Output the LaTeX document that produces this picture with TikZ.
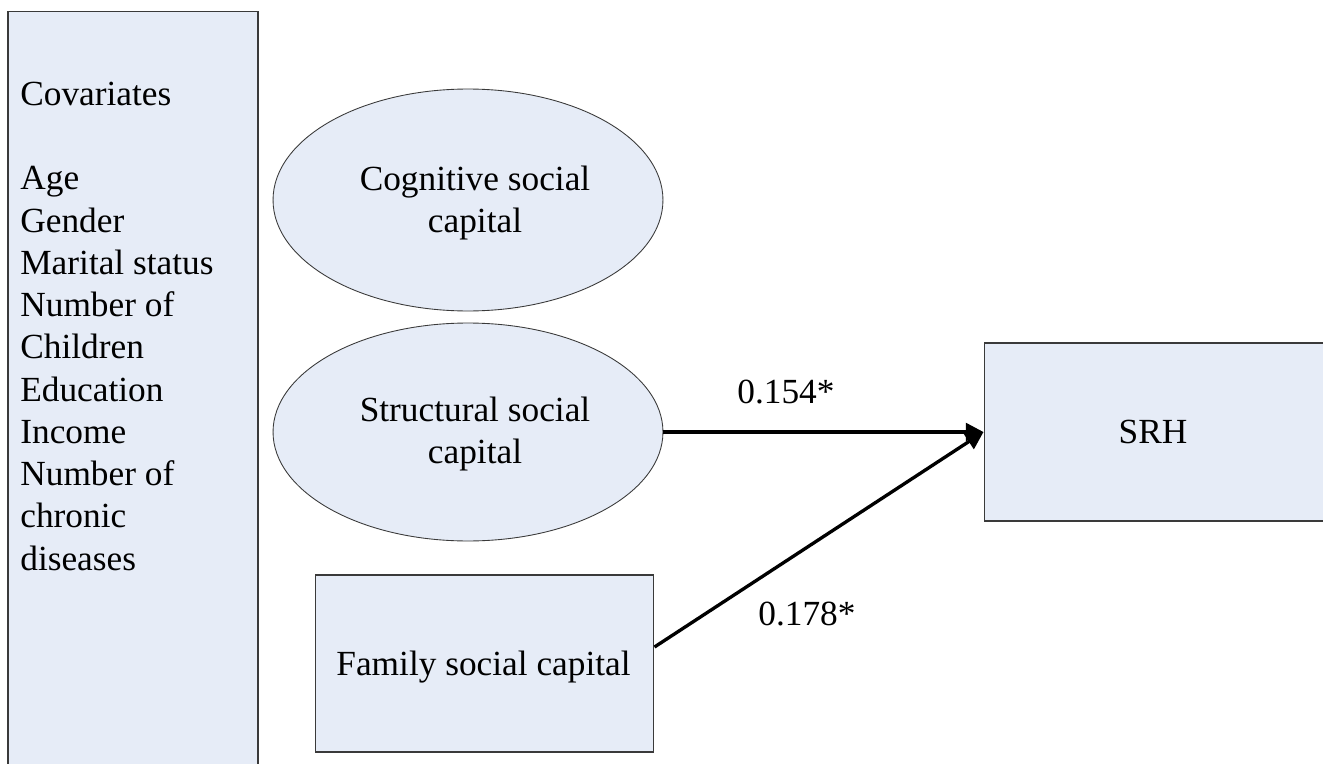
\documentclass[tikz,border=0pt]{standalone}
\usepackage{fontspec}
\setmainfont{Liberation Serif}
\usetikzlibrary{arrows.meta,shapes.geometric}
\definecolor{boxfill}{HTML}{E6ECF7}
\definecolor{boxline}{HTML}{3A3A3A}
\tikzset{
  shapebox/.style={draw=boxline, line width=0.6pt, fill=boxfill, rectangle, inner sep=0pt},
  shapeell/.style={draw=boxline, line width=0.5pt, fill=boxfill, ellipse, inner sep=0pt},
  txt/.style={font=\fontsize{20.1}{24.04}\selectfont, inner sep=0pt},
  ctxt/.style={font=\fontsize{20.1}{23.8}\selectfont, inner sep=0pt, align=center},
  conn/.style={line width=1.9pt, -{Triangle[length=10pt,width=10pt]}}
}
\begin{document}
\begin{tikzpicture}[x=0.02cm, y=-0.02cm]
\useasboundingbox (0,0) rectangle (1323,764);
\begin{scope}
\clip (0,0) rectangle (1323,764);
% covariates box
\node[shapebox, minimum width=5cm, minimum height=15.18cm] (cov) at (133,390.5) {};
\node[txt, anchor=base west, align=left] (covtext) at (20,570)
  {Covariates\\[24.04pt]Age\\Gender\\Marital status\\Number of\\Children\\Education\\Income\\Number of\\chronic\\diseases};
% ellipses
\node[shapeell, minimum width=7.8cm, minimum height=4.44cm] (cog) at (468,200) {};
\node[ctxt, anchor=base] (cogtext) at (475,232) {Cognitive social\\capital};
\node[shapeell, minimum width=7.8cm, minimum height=4.36cm] (str) at (468,432) {};
\node[ctxt, anchor=base] (strtext) at (475,463) {Structural social\\capital};
% family box
\node[shapebox, minimum width=6.78cm, minimum height=3.54cm] (fam) at (484.5,663.5) {};
\node[txt, anchor=base] (famtext) at (483.5,675) {Family social capital};
% SRH box
\node[shapebox, minimum width=6.8cm, minimum height=3.56cm] (srh) at (1154,432) {};
\node[txt, anchor=base] (srhtext) at (1153,443) {SRH};
% arrows
\draw[conn] (str.east) -- (srh.west);
\draw[conn] ([yshift=0.33cm]fam.east) -- (srh.west);
\node[txt, anchor=base] (l1) at (786,403) {0.154*};
\node[txt, anchor=base] (l2) at (807,625) {0.178*};
\end{scope}
\end{tikzpicture}
\end{document}
